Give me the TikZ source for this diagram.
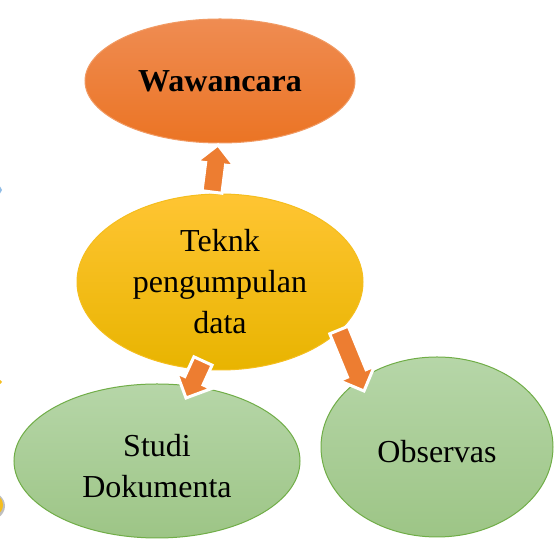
\documentclass[tikz,border=0pt]{standalone}
\usepackage{fontspec}
\setmainfont{Liberation Serif}
\usetikzlibrary{calc,shapes.geometric}
\definecolor{orA}{HTML}{EF8C52}
\definecolor{orB}{HTML}{EB7424}
\definecolor{orE}{HTML}{F19A63}
\definecolor{yeA}{HTML}{FFC533}
\definecolor{yeB}{HTML}{E8B400}
\definecolor{yeE}{HTML}{F5BE1E}
\definecolor{grA}{HTML}{B6D6A8}
\definecolor{grB}{HTML}{9DC586}
\definecolor{grE}{HTML}{70AD47}
\definecolor{arr}{HTML}{ED7D31}
\definecolor{bluA}{HTML}{8FBCE6}
\tikzset{
  bubble/.style={ellipse, inner sep=0pt, font=\fontsize{32}{41}\selectfont, align=center, line width=1pt},
  orbub/.style={bubble, top color=orA, bottom color=orB, draw=orE},
  yebub/.style={bubble, top color=yeA, bottom color=yeB, draw=yeE},
  grbub/.style={bubble, top color=grA, bottom color=grB, draw=grE},
  blockarr/.style={fill=arr, draw=white, line width=3pt, line join=miter},
}
\newcommand{\blockarrow}[2]{%
  \coordinate (hb) at ($(#2)!19pt!(#1)$);
  \path[blockarr]
    ($(#1)!10pt!90:(#2)$) -- ($(hb)!10pt!90:(#2)$) -- ($(hb)!19pt!90:(#2)$) -- (#2)
    -- ($(hb)!19pt!-90:(#2)$) -- ($(hb)!10pt!-90:(#2)$) -- ($(#1)!10pt!-90:(#2)$) -- cycle;
}
\begin{document}
\begin{tikzpicture}[x=1pt,y=1pt]
\useasboundingbox (0,0) rectangle (555,543);
\clip (0,0) rectangle (555,543);
\fill[white] (0,0) rectangle (555,543);
% edge fragments
\fill[bluA] (-20,353) ellipse (22 and 8);
\fill[yeE] (-20,161) ellipse (22 and 4.5);
\fill[black!25] (-16,37) ellipse (21 and 16);
\fill[yeE] (-19,38) ellipse (22 and 15);
% bubbles
\node[orbub, minimum width=270, minimum height=124] (waw) at (220,462) {\textbf{Wawancara}};
\node[yebub, minimum width=286, minimum height=176] (tek) at (220,261) {Teknk\\pengumpulan\\data};
\node[grbub, minimum width=286, minimum height=154] (stu) at (157,82) {\rule{0pt}{32pt}Studi\\Dokumenta};
\node[grbub, minimum width=232, minimum height=180] (obs) at (437,96) {\rule{0pt}{31pt}Observas};
% arrows
\coordinate (t1) at (212,351);
\coordinate (t2) at (218,398);
\coordinate (l1) at (203,182);
\coordinate (l2) at (186,145);
\coordinate (r1) at (339,213);
\coordinate (r2) at (364,152);
\blockarrow{t1}{t2}
\blockarrow{l1}{l2}
\blockarrow{r1}{r2}
\end{tikzpicture}
\end{document}
